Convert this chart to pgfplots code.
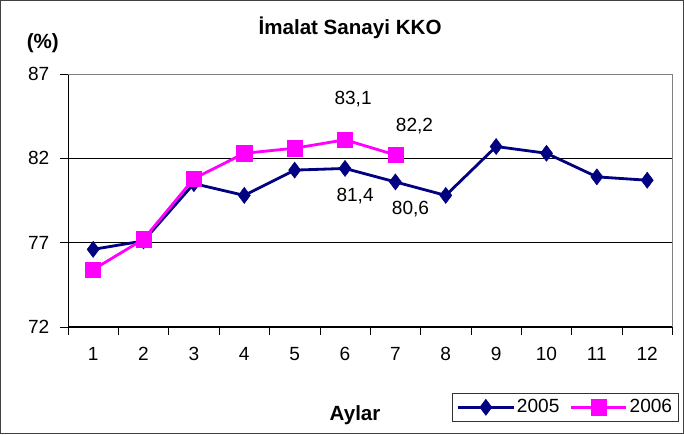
\documentclass[border=0pt]{standalone}
\usepackage{fontspec}
\setmainfont{Liberation Sans}
\usepackage{pgfplots}
\pgfplotsset{compat=1.18}
\definecolor{navyc}{HTML}{000080}
\definecolor{magc}{HTML}{FF00FF}
\newcommand{\fs}{\fontsize{19}{22}\selectfont}
\newcommand{\fb}{\bfseries\fontsize{20.5}{24}\selectfont}
\begin{document}
\fs
\begin{tikzpicture}
\begin{axis}[
  scale only axis, width=600bp, height=251bp,
  xmin=0.5, xmax=12.5, ymin=72, ymax=87,
  axis x line*=bottom, axis y line*=left,
  axis line style={black, line width=0.8pt},
  xtick={1,...,12}, major x tick style={draw=none},
  minor xtick={0.5,1.5,...,12.5},
  minor x tick style={black, line width=0.6pt},
  minor tick length=8bp,
  ytick={72,77,82,87}, tick align=outside,
  y tick style={black, line width=0.6pt}, major tick length=8bp,
  ymajorgrids, grid style={black, line width=0.6pt},
  tick label style={font=\fs},
  /pgf/number format/assume math mode=true,
  xticklabel style={yshift=-6bp},
  yticklabel style={xshift=-4bp},
  clip=false,
  legend columns=2,
  legend style={at={(rel axis cs:0.823,-0.318)}, anchor=center, draw=black!80, line width=0.6pt,
    font=\fs, inner xsep=4bp, inner ysep=4bp,
    /tikz/every even column/.append style={column sep=8bp}},
  legend image code/.code={%
    \draw[#1, mark=none] (0bp,0bp) -- (55bp,0bp);
    \draw[#1, only marks] plot coordinates {(27.5bp,0bp)};},
]
\draw[gray, line width=0.8pt] (rel axis cs:0,1) -- (rel axis cs:1,1) -- (rel axis cs:1,0);
\addplot[navyc, line width=2.8pt, mark=diamond*, mark size=8bp, mark options={solid, line width=0.5pt}]
 coordinates {(1,76.6) (2,77.1) (3,80.5) (4,79.8) (5,81.3) (6,81.4) (7,80.6) (8,79.8) (9,82.7) (10,82.3) (11,80.9) (12,80.7)};
\addlegendentry{2005}
\addplot[magc, line width=2.8pt, mark=square*, mark size=7.5bp, mark options={solid, line width=0.5pt}]
 coordinates {(1,75.4) (2,77.2) (3,80.8) (4,82.3) (5,82.6) (6,83.1) (7,82.2)};
\addlegendentry{2006}
\node[font=\fs] at ([shift={(8bp,40bp)}]axis cs:6,83.1) {83,1};
\node[font=\fs] at ([shift={(19bp,29bp)}]axis cs:7,82.2) {82,2};
\node[font=\fs] at ([shift={(10bp,-27bp)}]axis cs:6,81.4) {81,4};
\node[font=\fs] at ([shift={(15bp,-27bp)}]axis cs:7,80.6) {80,6};
\coordinate (ll) at (rel axis cs:0,0);
\end{axis}
\node[font=\fb] at ([shift={(280bp,297bp)}]ll) {İmalat Sanayi KKO};
\node[font=\fb] at ([shift={(-25bp,282bp)}]ll) {(\%)};
\node[font=\fb] at ([shift={(285bp,-88bp)}]ll) {Aylar};
\draw[black!75, line width=1pt] ([shift={(-67bp,-106bp)}]ll) rectangle ([shift={(611bp,324bp)}]ll);
\end{tikzpicture}
\end{document}
